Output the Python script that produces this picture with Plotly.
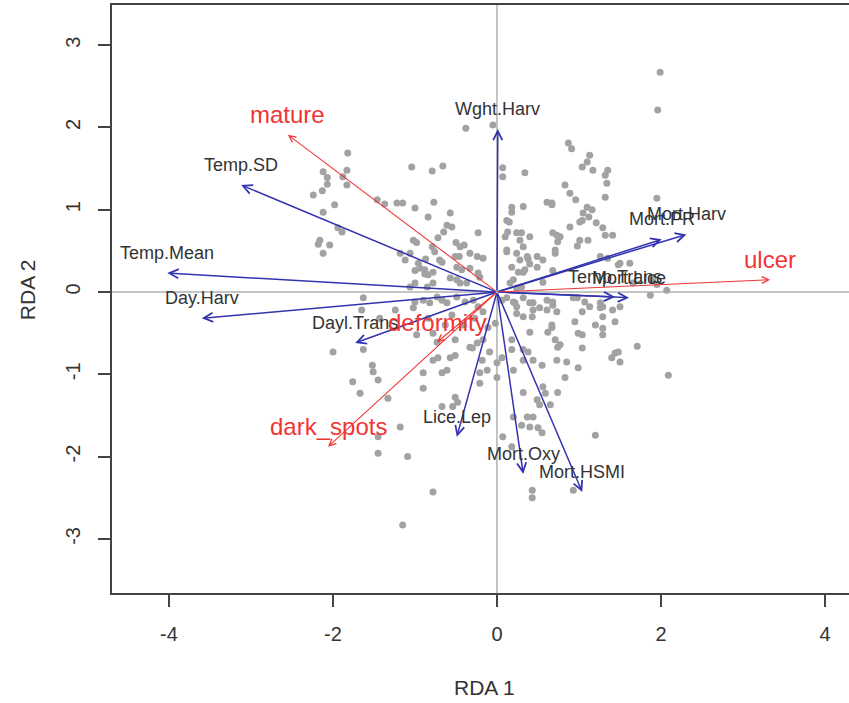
import plotly.graph_objects as go

# Site scores on the first two RDA axes
rda1 = [
    -0.38, -1.82, -1.04, -0.79, -0.66, -2.12, -2.07, -2.07, -1.83, -1.88,
    -1.83, -2.13, -2.24, -1.98, -2.12, -1.46, -1.37, -1.22, -1.15, -1.00,
    -0.77, -0.57, -0.84, -0.61, -0.55, -0.65, -0.23, -1.94, -1.89, -2.16,
    -2.18, -2.04, -2.12, -1.02, -0.98, -0.72, -0.50, -0.40, -0.17, -1.18,
    -1.06, -0.96, -0.87, -0.67, -0.51, -0.46, -1.00, -0.88, -0.88, -0.78,
    -0.33, -0.23, -1.00, -0.78, -0.05,
    1.99, 1.96, 0.87, 0.91, 1.13, 1.10, 1.04, 1.17, 1.35, 1.32,
    1.34, 0.07, 0.07, 0.34, 0.83, 0.89, 1.32, 1.95, 0.96, 0.61,
    0.67, 0.18, 0.32, 0.18, 1.10, 1.16, 1.05, 1.12, 1.01, 1.21,
    0.15, 0.89, 0.68, 0.77, 0.74, 1.32, 1.41, 0.10, 0.24, 0.28,
    1.01, 1.11, 0.98, 0.12, 0.24, 0.71, 0.28, 0.38, 0.40, 0.49,
    0.32, 1.26, 1.35, 0.68, 0.20, 0.56, 1.48,
    0.67, 1.04, 0.73, 0.71, 1.50, 1.62, 1.87, 2.07, 0.68, 0.93,
    1.50, 1.29, 1.04, 1.29, 0.73, 0.95, 1.20, 1.29, 1.44, 0.67,
    1.29, 1.04, 0.71, 1.71, 0.74, 1.04, 1.44, 1.40, 1.50, 0.73,
    0.85, 0.99, 2.09, 0.83, 0.74,
    0.06, 0.22, 0.32, 0.44, 0.52, 0.68, 0.61, 0.24, 0.32, 0.43,
    1.26, 0.67, 0.62, 0.40, -0.02, 0.99, 0.18, 0.77, 1.48, 0.18,
    0.38, 0.44, 0.06, 0.32, 0.55, 0.20, 0.00, 0.32, 0.56, 0.59,
    0.49, 0.52, 0.65, 0.37, 0.44, 0.20, 0.30, 0.40, 0.50, 0.55,
    1.20, 0.07, 0.18, 0.93, 0.43, 0.43,
    -1.63, -1.00, -0.90, -0.82, -1.02, -0.98, -0.78, -0.73, -2.00, -1.63,
    -0.78, -0.72, -0.57, -0.51, -1.52, -1.51, -0.61, -0.90, -0.67, -1.76,
    -1.45, -1.67, -0.90, -1.33, -0.51, -0.48, -0.67, -0.54, -0.21, -0.21,
    -0.18, -0.12, -0.30, -0.17, -1.18, -1.45, -1.45, -1.09, -0.78, -1.15,
    -0.09, 0.00, -0.33, -0.24, 0.32,
    -0.79, -0.76, -0.45, -0.33, -0.24, -1.12, -0.70, -0.49, -0.43, -0.94,
    -0.84, -0.21, -0.57, -0.49, -0.45, -0.37, -1.06, -0.85, -0.73, -0.67,
    -0.61, -0.49, -0.39, -0.29, -0.23, -0.17, 0.13, 0.30, 0.40, 0.12,
    0.32, 0.37, 0.49, 0.56, 0.18, 0.26, 0.34, 0.12, 1.29, 1.66,
    1.90, 1.95, 0.16, 0.24, 0.30, 0.12, 0.20, 0.24, 0.40, 0.44,
    0.61, 0.98, 1.07, 1.13, 1.26, 1.41,
    -0.55, -0.41, -0.27, -0.11, -0.51, -0.63, -0.84, -1.24, -1.43, -1.65,
]
rda2 = [
    1.99, 1.69, 1.52, 1.47, 1.53, 1.46, 1.39, 1.31, 1.48, 1.40,
    1.30, 1.23, 1.18, 1.06, 0.97, 1.12, 1.07, 1.08, 1.08, 1.02,
    1.09, 0.96, 0.91, 0.81, 0.79, 0.73, 0.72, 0.78, 0.73, 0.63,
    0.58, 0.57, 0.47, 0.63, 0.60, 0.66, 0.60, 0.57, 0.41, 0.47,
    0.47, 0.35, 0.40, 0.36, 0.43, 0.43, 0.26, 0.27, 0.22, 0.24,
    0.29, 0.23, 0.11, 0.11, 2.03,
    2.67, 2.21, 1.81, 1.74, 1.66, 1.58, 1.52, 1.48, 1.48, 1.42,
    1.32, 1.51, 1.40, 1.45, 1.30, 1.20, 1.15, 1.14, 1.12, 1.09,
    1.06, 1.03, 1.04, 0.97, 1.03, 1.00, 0.96, 0.91, 0.85, 0.84,
    0.85, 0.79, 0.72, 0.67, 0.61, 0.69, 0.69, 0.67, 0.72, 0.63,
    0.63, 0.63, 0.56, 0.49, 0.47, 0.47, 0.39, 0.40, 0.34, 0.30,
    0.24, 0.43, 0.41, 0.26, 0.15, 0.12, 0.33,
    1.08, 0.87, 0.69, 0.51, 0.35, 0.35, -0.04, 0.02, -0.12, -0.07,
    -0.18, -0.18, -0.24, -0.30, -0.24, -0.36, -0.40, -0.44, -0.36, -0.43,
    -0.52, -0.52, -0.58, -0.66, -0.67, -0.68, -0.74, -0.80, -0.85, -0.83,
    -0.85, -0.92, -1.01, -1.04, -1.22,
    -0.10, -0.13, -0.07, -0.13, -0.19, -0.16, -0.10, -0.26, -0.30, -0.30,
    -0.19, -0.40, -0.49, -0.49, -0.38, -0.50, -0.58, -0.64, -0.73, -0.70,
    -0.73, -0.83, -0.80, -0.83, -0.89, -0.95, -1.04, -1.22, -1.15, -1.23,
    -1.31, -1.37, -1.37, -1.52, -1.52, -1.52, -1.62, -1.64, -1.65, -1.71,
    -1.74, -1.76, -1.88, -2.41, -2.41, -2.50,
    -0.07, -0.12, -0.10, -0.13, -0.19, -0.52, -0.50, -0.61, -0.73, -0.70,
    -0.83, -0.80, -0.80, -0.77, -0.89, -0.97, -0.95, -0.98, -0.98, -1.09,
    -1.07, -1.23, -1.17, -1.29, -1.28, -1.34, -1.39, -1.39, -0.98, -1.11,
    -0.83, -0.95, -0.68, -0.58, -1.64, -1.76, -1.96, -2.00, -2.43, -2.83,
    -0.73, -0.86, -0.67, -0.62, -0.70,
    0.55, 0.49, 0.55, 0.47, 0.43, 0.39, 0.39, 0.30, 0.27, 0.29,
    0.21, 0.18, 0.17, 0.15, 0.11, 0.11, 0.06, 0.06, -0.06, -0.10,
    -0.13, -0.06, -0.12, -0.10, -0.18, -0.24, 0.73, 0.72, 0.67, 0.51,
    0.55, 0.43, 0.43, 0.39, 0.30, 0.24, 0.27, 0.87, 0.78, 0.11,
    0.15, 0.09, 0.11, 0.05, 0.06, -0.07, -0.12, -0.18, -0.13, -0.22,
    -0.22, -0.07, -0.12, -0.18, -0.13, -0.22,
    -0.28, -0.40, -0.32, -0.43, -0.58, -0.40, -0.32, -0.22, -0.32, -0.22,
]

# Explanatory variables (biplot arrows)
env_names = ["Temp.SD", "Temp.Mean", "Day.Harv", "Dayl.Trans", "Lice.Lep",
             "Mort.Oxy", "Mort.HSMI", "Wght.Harv", "Mort.Harv", "Mort.PR",
             "Temp.Trans", "Mort.Lice"]
env_rda1 = [-3.12, -4.02, -3.60, -1.73, -0.49, 0.32, 1.04, 0.01, 2.31, 2.01, 1.44, 1.61]
env_rda2 = [1.30, 0.23, -0.32, -0.62, -1.76, -2.21, -2.43, 1.98, 0.70, 0.64, -0.06, -0.07]

# Response variables (species arrows)
resp_names = ["mature", "ulcer", "deformity", "dark_spots"]
resp_rda1 = [-2.55, 3.33, -0.73, -2.06]
resp_rda2 = [1.91, 0.15, -0.61, -1.88]

tick_x = [-4, -2, 0, 2, 4]
tick_y = [-3, -2, -1, 0, 1, 2, 3]

FONT = "Liberation Sans, Arial, sans-serif"
BLUE = "#3333b0"
RED = "#f03535"
AXIS = "#444444"

fig = go.Figure()

fig.add_trace(go.Scatter(
    x=rda1, y=rda2, mode="markers",
    marker=dict(size=7, color="#a2a2a2", line=dict(width=0)),
    hoverinfo="skip", showlegend=False,
))

# Reference lines through the origin
fig.add_hline(y=0, line=dict(color="#8a8a8a", width=1), layer="below")
fig.add_vline(x=0, line=dict(color="#8a8a8a", width=1), layer="below")

annotations = []

def add_arrows(names, xs, ys, color, width, label_color, label_size):
    for name, x, y in zip(names, xs, ys):
        annotations.append(dict(
            x=x, y=y, xref="x", yref="y",
            ax=0, ay=0, axref="x", ayref="y",
            text="", showarrow=True,
            arrowhead=5, arrowsize=1.2, arrowwidth=width,
            arrowcolor=color, standoff=0, startstandoff=0,
        ))
        annotations.append(dict(
            x=x, y=y, xref="x", yref="y",
            text=name, showarrow=False, yshift=20,
            font=dict(family=FONT, size=label_size, color=label_color),
        ))

add_arrows(env_names, env_rda1, env_rda2, BLUE, 1.5, "#333333", 18)
add_arrows(resp_names, resp_rda1, resp_rda2, RED, 1.1, RED, 24)

# Axis titles
annotations.append(dict(
    text="RDA 1", xref="paper", yref="paper", x=0.505, y=0,
    yshift=-94, showarrow=False, xanchor="center", yanchor="middle",
    font=dict(family=FONT, size=21, color="#333333"),
))
annotations.append(dict(
    text="RDA 2", xref="paper", yref="paper", x=0, y=0.515,
    xshift=-85, showarrow=False, xanchor="center", yanchor="middle",
    textangle=-90,
    font=dict(family=FONT, size=21, color="#333333"),
))

fig.update_layout(
    width=849, height=703,
    margin=dict(l=112, r=0, t=5, b=110),
    paper_bgcolor="white", plot_bgcolor="white",
    annotations=annotations,
    showlegend=False,
)

fig.update_xaxes(
    range=[-4.695, 4.293], showgrid=False, zeroline=False,
    showline=True, linecolor=AXIS, linewidth=1.5, mirror=True,
    ticks="outside", ticklen=12, tickwidth=1.5, tickcolor=AXIS,
    tickvals=tick_x, ticktext=[str(v) for v in tick_x],
    ticklabelstandoff=10,
    tickfont=dict(family=FONT, size=20, color="#333333"),
)
fig.update_yaxes(
    range=[-3.657, 3.487], showgrid=False, zeroline=False,
    showline=True, linecolor=AXIS, linewidth=1.5, mirror=False,
    ticks="outside", ticklen=12, tickwidth=1.5, tickcolor=AXIS,
    tickvals=tick_y, ticktext=[str(v) for v in tick_y],
    tickangle=-90, ticklabelstandoff=10,
    tickfont=dict(family=FONT, size=20, color="#333333"),
)

fig.write_html("out.html")
